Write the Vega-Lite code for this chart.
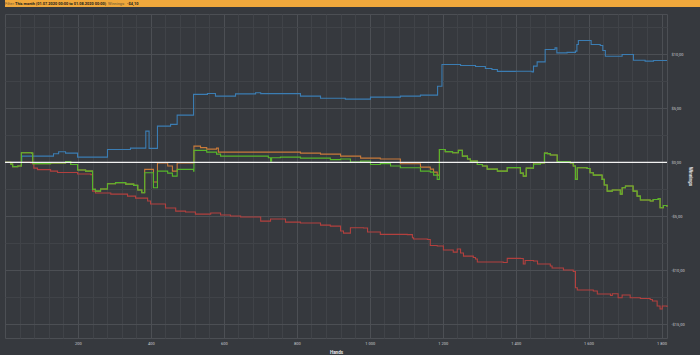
{
  "$schema": "https://vega.github.io/schema/vega-lite/v6.json",
  "background": "#36393e",
  "padding": {"left": 2, "top": 0, "right": 0, "bottom": 0},
  "spacing": 6,
  "config": {
    "font": "Roboto",
    "view": {"stroke": "#4c4f54", "strokeWidth": 1}
  },
  "datasets": {
    "graph": [
      {"series":"Non-showdown","hand":0,"won":0},{"series":"Non-showdown","hand":70,"won":-0.06},{"series":"Non-showdown","hand":79,"won":-0.53},{"series":"Non-showdown","hand":89,"won":-0.67},{"series":"Non-showdown","hand":125,"won":-0.81},{"series":"Non-showdown","hand":144,"won":-0.94},{"series":"Non-showdown","hand":199,"won":-1.08},{"series":"Non-showdown","hand":235,"won":-1.13},{"series":"Non-showdown","hand":240,"won":-2.66},{"series":"Non-showdown","hand":248,"won":-2.84},{"series":"Non-showdown","hand":290,"won":-2.94},{"series":"Non-showdown","hand":336,"won":-3.12},{"series":"Non-showdown","hand":358,"won":-3.31},{"series":"Non-showdown","hand":391,"won":-3.58},{"series":"Non-showdown","hand":399,"won":-3.86},{"series":"Non-showdown","hand":440,"won":-4.23},{"series":"Non-showdown","hand":468,"won":-4.51},{"series":"Non-showdown","hand":495,"won":-4.60},{"series":"Non-showdown","hand":522,"won":-4.79},{"series":"Non-showdown","hand":564,"won":-4.69},{"series":"Non-showdown","hand":591,"won":-4.88},{"series":"Non-showdown","hand":618,"won":-4.97},{"series":"Non-showdown","hand":646,"won":-5.06},{"series":"Non-showdown","hand":701,"won":-5.44},{"series":"Non-showdown","hand":728,"won":-5.25},{"series":"Non-showdown","hand":769,"won":-5.53},{"series":"Non-showdown","hand":810,"won":-5.62},{"series":"Non-showdown","hand":865,"won":-5.81},{"series":"Non-showdown","hand":892,"won":-5.90},{"series":"Non-showdown","hand":920,"won":-6.36},{"series":"Non-showdown","hand":928,"won":-6.55},{"series":"Non-showdown","hand":947,"won":-6.06},{"series":"Non-showdown","hand":983,"won":-6.08},{"series":"Non-showdown","hand":994,"won":-6.45},{"series":"Non-showdown","hand":1029,"won":-6.67},{"series":"Non-showdown","hand":1103,"won":-6.69},{"series":"Non-showdown","hand":1117,"won":-6.98},{"series":"Non-showdown","hand":1120,"won":-7.10},{"series":"Non-showdown","hand":1158,"won":-7.15},{"series":"Non-showdown","hand":1166,"won":-7.70},{"series":"Non-showdown","hand":1185,"won":-7.75},{"series":"Non-showdown","hand":1202,"won":-8.12},{"series":"Non-showdown","hand":1229,"won":-8.31},{"series":"Non-showdown","hand":1240,"won":-8.03},{"series":"Non-showdown","hand":1249,"won":-8.40},{"series":"Non-showdown","hand":1257,"won":-8.68},{"series":"Non-showdown","hand":1284,"won":-8.81},{"series":"Non-showdown","hand":1290,"won":-8.95},{"series":"Non-showdown","hand":1295,"won":-9.23},{"series":"Non-showdown","hand":1366,"won":-9.28},{"series":"Non-showdown","hand":1377,"won":-8.89},{"series":"Non-showdown","hand":1413,"won":-8.91},{"series":"Non-showdown","hand":1421,"won":-9.42},{"series":"Non-showdown","hand":1426,"won":-9.09},{"series":"Non-showdown","hand":1449,"won":-9.14},{"series":"Non-showdown","hand":1460,"won":-9.42},{"series":"Non-showdown","hand":1495,"won":-9.60},{"series":"Non-showdown","hand":1500,"won":-9.79},{"series":"Non-showdown","hand":1531,"won":-9.97},{"series":"Non-showdown","hand":1558,"won":-10.11},{"series":"Non-showdown","hand":1564,"won":-11.61},{"series":"Non-showdown","hand":1569,"won":-11.82},{"series":"Non-showdown","hand":1613,"won":-11.92},{"series":"Non-showdown","hand":1624,"won":-12.19},{"series":"Non-showdown","hand":1660,"won":-12.33},{"series":"Non-showdown","hand":1665,"won":-12.17},{"series":"Non-showdown","hand":1681,"won":-12.54},{"series":"Non-showdown","hand":1692,"won":-12.29},{"series":"Non-showdown","hand":1714,"won":-12.54},{"series":"Non-showdown","hand":1742,"won":-12.61},{"series":"Non-showdown","hand":1769,"won":-12.70},{"series":"Non-showdown","hand":1775,"won":-12.84},{"series":"Non-showdown","hand":1788,"won":-13.31},{"series":"Non-showdown","hand":1796,"won":-13.58},{"series":"Non-showdown","hand":1802,"won":-13.31},{"series":"Non-showdown","hand":1815,"won":-13.40},

      {"series":"Showdown","hand":0,"won":0},{"series":"Showdown","hand":46,"won":0.58},{"series":"Showdown","hand":133,"won":0.80},{"series":"Showdown","hand":147,"won":0.98},{"series":"Showdown","hand":166,"won":0.86},{"series":"Showdown","hand":199,"won":0.49},{"series":"Showdown","hand":281,"won":1.20},{"series":"Showdown","hand":344,"won":1.32},{"series":"Showdown","hand":386,"won":2.90},{"series":"Showdown","hand":395,"won":1.30},{"series":"Showdown","hand":418,"won":3.36},{"series":"Showdown","hand":454,"won":3.52},{"series":"Showdown","hand":472,"won":4.38},{"series":"Showdown","hand":517,"won":6.30},{"series":"Showdown","hand":555,"won":6.39},{"series":"Showdown","hand":577,"won":6.14},{"series":"Showdown","hand":632,"won":6.35},{"series":"Showdown","hand":687,"won":6.46},{"series":"Showdown","hand":701,"won":6.37},{"series":"Showdown","hand":810,"won":6.14},{"series":"Showdown","hand":865,"won":5.95},{"series":"Showdown","hand":933,"won":5.86},{"series":"Showdown","hand":1002,"won":6.05},{"series":"Showdown","hand":1084,"won":6.14},{"series":"Showdown","hand":1139,"won":6.23},{"series":"Showdown","hand":1186,"won":7.06},{"series":"Showdown","hand":1198,"won":9.07},{"series":"Showdown","hand":1249,"won":8.98},{"series":"Showdown","hand":1290,"won":8.89},{"series":"Showdown","hand":1317,"won":8.70},{"series":"Showdown","hand":1335,"won":8.61},{"series":"Showdown","hand":1350,"won":8.43},{"series":"Showdown","hand":1399,"won":8.45},{"series":"Showdown","hand":1445,"won":8.39},{"series":"Showdown","hand":1449,"won":8.92},{"series":"Showdown","hand":1459,"won":9.31},{"series":"Showdown","hand":1481,"won":10.46},{"series":"Showdown","hand":1508,"won":10.61},{"series":"Showdown","hand":1513,"won":10.15},{"series":"Showdown","hand":1541,"won":10.19},{"series":"Showdown","hand":1564,"won":10.31},{"series":"Showdown","hand":1568,"won":10.93},{"series":"Showdown","hand":1572,"won":11.30},{"series":"Showdown","hand":1607,"won":10.93},{"series":"Showdown","hand":1632,"won":10.83},{"series":"Showdown","hand":1639,"won":10.37},{"series":"Showdown","hand":1646,"won":9.84},{"series":"Showdown","hand":1692,"won":10.00},{"series":"Showdown","hand":1723,"won":9.47},{"series":"Showdown","hand":1755,"won":9.38},{"series":"Showdown","hand":1778,"won":9.44},{"series":"Showdown","hand":1815,"won":9.44},

      {"series":"All-in EV","hand":0,"won":0},{"series":"All-in EV","hand":16,"won":-0.16},{"series":"All-in EV","hand":21,"won":-0.39},{"series":"All-in EV","hand":35,"won":-0.34},{"series":"All-in EV","hand":45,"won":0.89},{"series":"All-in EV","hand":73,"won":0.86},{"series":"All-in EV","hand":76,"won":-0.11},{"series":"All-in EV","hand":125,"won":-0.06},{"series":"All-in EV","hand":166,"won":0.07},{"series":"All-in EV","hand":180,"won":-0.20},{"series":"All-in EV","hand":199,"won":-0.71},{"series":"All-in EV","hand":221,"won":-0.81},{"series":"All-in EV","hand":240,"won":-2.50},{"series":"All-in EV","hand":248,"won":-2.66},{"series":"All-in EV","hand":262,"won":-2.47},{"series":"All-in EV","hand":281,"won":-1.98},{"series":"All-in EV","hand":303,"won":-1.87},{"series":"All-in EV","hand":331,"won":-2.01},{"series":"All-in EV","hand":353,"won":-2.13},{"series":"All-in EV","hand":364,"won":-2.56},{"series":"All-in EV","hand":375,"won":-2.81},{"series":"All-in EV","hand":383,"won":-0.65},{"series":"All-in EV","hand":407,"won":-1.82},{"series":"All-in EV","hand":418,"won":-0.04},{"series":"All-in EV","hand":446,"won":-0.34},{"series":"All-in EV","hand":459,"won":-0.81},{"series":"All-in EV","hand":472,"won":-0.04},{"series":"All-in EV","hand":518,"won":1.51},{"series":"All-in EV","hand":536,"won":1.37},{"series":"All-in EV","hand":553,"won":1.23},{"series":"All-in EV","hand":580,"won":1.32},{"series":"All-in EV","hand":585,"won":0.95},{"series":"All-in EV","hand":755,"won":0.95},{"series":"All-in EV","hand":810,"won":0.86},{"series":"All-in EV","hand":865,"won":0.77},{"series":"All-in EV","hand":920,"won":0.58},{"series":"All-in EV","hand":975,"won":0.40},{"series":"All-in EV","hand":1029,"won":0.31},{"series":"All-in EV","hand":1084,"won":-0.13},{"series":"All-in EV","hand":1139,"won":-0.44},{"series":"All-in EV","hand":1166,"won":-0.62},{"series":"All-in EV","hand":1175,"won":-0.90},{"series":"All-in EV","hand":1185,"won":-1.18},{"series":"All-in EV","hand":1191,"won":1.20},{"series":"All-in EV","hand":1207,"won":1.00},{"series":"All-in EV","hand":1227,"won":0.89},{"series":"All-in EV","hand":1243,"won":1.11},{"series":"All-in EV","hand":1254,"won":0.58},{"series":"All-in EV","hand":1268,"won":0.31},{"series":"All-in EV","hand":1276,"won":0.12},{"series":"All-in EV","hand":1295,"won":-0.19},{"series":"All-in EV","hand":1309,"won":-0.34},{"series":"All-in EV","hand":1322,"won":-0.62},{"series":"All-in EV","hand":1350,"won":-0.81},{"series":"All-in EV","hand":1377,"won":-0.48},{"series":"All-in EV","hand":1413,"won":-0.99},{"series":"All-in EV","hand":1421,"won":-1.27},{"series":"All-in EV","hand":1429,"won":-0.53},{"series":"All-in EV","hand":1449,"won":-0.04},{"series":"All-in EV","hand":1468,"won":-0.04},{"series":"All-in EV","hand":1479,"won":0.86},{"series":"All-in EV","hand":1487,"won":0.81},{"series":"All-in EV","hand":1495,"won":0.68},{"series":"All-in EV","hand":1514,"won":0.07},{"series":"All-in EV","hand":1550,"won":-0.06},{"series":"All-in EV","hand":1558,"won":-0.34},{"series":"All-in EV","hand":1564,"won":-1.57},{"series":"All-in EV","hand":1569,"won":-0.50},{"series":"All-in EV","hand":1596,"won":-0.57},{"series":"All-in EV","hand":1604,"won":-0.96},{"series":"All-in EV","hand":1613,"won":-1.18},{"series":"All-in EV","hand":1637,"won":-1.57},{"series":"All-in EV","hand":1643,"won":-2.10},{"series":"All-in EV","hand":1651,"won":-2.66},{"series":"All-in EV","hand":1665,"won":-2.56},{"series":"All-in EV","hand":1687,"won":-2.94},{"series":"All-in EV","hand":1692,"won":-2.35},{"series":"All-in EV","hand":1701,"won":-2.19},{"series":"All-in EV","hand":1722,"won":-2.66},{"series":"All-in EV","hand":1733,"won":-3.12},{"series":"All-in EV","hand":1742,"won":-3.49},{"series":"All-in EV","hand":1769,"won":-3.58},{"series":"All-in EV","hand":1777,"won":-3.44},{"series":"All-in EV","hand":1791,"won":-3.35},{"series":"All-in EV","hand":1796,"won":-4.20},{"series":"All-in EV","hand":1805,"won":-4.00},{"series":"All-in EV","hand":1815,"won":-4.10},

      {"series":"Net won","hand":0,"won":0},{"series":"Net won","hand":16,"won":-0.16},{"series":"Net won","hand":21,"won":-0.39},{"series":"Net won","hand":35,"won":-0.34},{"series":"Net won","hand":45,"won":0.89},{"series":"Net won","hand":73,"won":0.86},{"series":"Net won","hand":76,"won":-0.11},{"series":"Net won","hand":125,"won":-0.06},{"series":"Net won","hand":166,"won":0.07},{"series":"Net won","hand":180,"won":-0.20},{"series":"Net won","hand":199,"won":-0.71},{"series":"Net won","hand":221,"won":-0.81},{"series":"Net won","hand":240,"won":-2.50},{"series":"Net won","hand":248,"won":-2.66},{"series":"Net won","hand":262,"won":-2.47},{"series":"Net won","hand":281,"won":-1.98},{"series":"Net won","hand":303,"won":-1.87},{"series":"Net won","hand":331,"won":-2.01},{"series":"Net won","hand":353,"won":-2.13},{"series":"Net won","hand":364,"won":-2.56},{"series":"Net won","hand":375,"won":-2.81},{"series":"Net won","hand":383,"won":-0.96},{"series":"Net won","hand":407,"won":-2.35},{"series":"Net won","hand":418,"won":-0.81},{"series":"Net won","hand":446,"won":-0.99},{"series":"Net won","hand":459,"won":-1.27},{"series":"Net won","hand":472,"won":-0.65},{"series":"Net won","hand":517,"won":-0.81},{"series":"Net won","hand":518,"won":1.11},{"series":"Net won","hand":553,"won":0.95},{"series":"Net won","hand":580,"won":0.77},{"series":"Net won","hand":591,"won":0.58},{"series":"Net won","hand":722,"won":0.43},{"series":"Net won","hand":728,"won":0.12},{"series":"Net won","hand":731,"won":0.43},{"series":"Net won","hand":755,"won":0.49},{"series":"Net won","hand":810,"won":0.40},{"series":"Net won","hand":892,"won":0.26},{"series":"Net won","hand":920,"won":0.31},{"series":"Net won","hand":947,"won":0.03},{"series":"Net won","hand":975,"won":0.12},{"series":"Net won","hand":1002,"won":-0.19},{"series":"Net won","hand":1029,"won":-0.11},{"series":"Net won","hand":1057,"won":-0.34},{"series":"Net won","hand":1084,"won":-0.50},{"series":"Net won","hand":1139,"won":-0.81},{"series":"Net won","hand":1166,"won":-0.90},{"series":"Net won","hand":1175,"won":-1.18},{"series":"Net won","hand":1185,"won":-1.57},{"series":"Net won","hand":1191,"won":1.20},{"series":"Net won","hand":1207,"won":1.00},{"series":"Net won","hand":1227,"won":0.89},{"series":"Net won","hand":1243,"won":1.11},{"series":"Net won","hand":1254,"won":0.58},{"series":"Net won","hand":1268,"won":0.31},{"series":"Net won","hand":1276,"won":0.12},{"series":"Net won","hand":1295,"won":-0.19},{"series":"Net won","hand":1309,"won":-0.34},{"series":"Net won","hand":1322,"won":-0.62},{"series":"Net won","hand":1350,"won":-0.81},{"series":"Net won","hand":1377,"won":-0.48},{"series":"Net won","hand":1413,"won":-0.99},{"series":"Net won","hand":1421,"won":-1.27},{"series":"Net won","hand":1429,"won":-0.53},{"series":"Net won","hand":1449,"won":-0.16},{"series":"Net won","hand":1468,"won":-0.04},{"series":"Net won","hand":1479,"won":0.86},{"series":"Net won","hand":1487,"won":0.81},{"series":"Net won","hand":1495,"won":0.68},{"series":"Net won","hand":1514,"won":0.07},{"series":"Net won","hand":1550,"won":-0.06},{"series":"Net won","hand":1558,"won":-0.34},{"series":"Net won","hand":1564,"won":-1.57},{"series":"Net won","hand":1569,"won":-0.50},{"series":"Net won","hand":1596,"won":-0.57},{"series":"Net won","hand":1604,"won":-0.96},{"series":"Net won","hand":1613,"won":-1.18},{"series":"Net won","hand":1637,"won":-1.57},{"series":"Net won","hand":1643,"won":-2.10},{"series":"Net won","hand":1651,"won":-2.66},{"series":"Net won","hand":1665,"won":-2.56},{"series":"Net won","hand":1687,"won":-2.94},{"series":"Net won","hand":1692,"won":-2.35},{"series":"Net won","hand":1701,"won":-2.19},{"series":"Net won","hand":1722,"won":-2.66},{"series":"Net won","hand":1733,"won":-3.12},{"series":"Net won","hand":1742,"won":-3.49},{"series":"Net won","hand":1769,"won":-3.58},{"series":"Net won","hand":1777,"won":-3.44},{"series":"Net won","hand":1791,"won":-3.35},{"series":"Net won","hand":1796,"won":-4.20},{"series":"Net won","hand":1805,"won":-4.00},{"series":"Net won","hand":1815,"won":-4.10}
    ],
    "header": [{"filter": "This month (01.07.2020 00:00 to 01.08.2020 00:00)", "total": "-$4,10"}],
    "zero": [{"level": 0}]
  },
  "vconcat": [
    {
      "width": 698,
      "height": 7,
      "view": {"fill": "#f0a83c", "stroke": null},
      "data": {"name": "header"},
      "encoding": {
        "x": {"datum": 0, "type": "quantitative", "scale": {"domain": [0, 1]}, "axis": null},
        "y": {"datum": 0.5, "type": "quantitative", "scale": {"domain": [0, 1]}, "axis": null}
      },
      "layer": [
        {"mark": {"type": "text", "align": "left", "baseline": "middle", "fontSize": 3.9, "color": "#6a5434", "dx": 0, "text": "Filter:"}},
        {"mark": {"type": "text", "align": "left", "baseline": "middle", "fontSize": 3.9, "fontWeight": "bold", "color": "#1a1a1a", "dx": 10}, "encoding": {"text": {"field": "filter"}}},
        {"mark": {"type": "text", "align": "left", "baseline": "middle", "fontSize": 3.9, "color": "#6a5434", "dx": 103, "text": "Winnings:"}},
        {"mark": {"type": "text", "align": "left", "baseline": "middle", "fontSize": 3.9, "fontWeight": "bold", "color": "#1a1a1a", "dx": 122}, "encoding": {"text": {"field": "total"}}}
      ]
    },
    {
      "width": 662,
      "height": 324,
      "resolve": {"axis": {"x": "independent", "y": "independent"}},
      "layer": [
        {
          "data": {"name": "graph"},
          "mark": {"type": "line", "interpolate": "step-after", "strokeWidth": 1.1},
          "encoding": {
            "x": {
              "field": "hand", "type": "quantitative",
              "scale": {"domain": [0, 1815], "nice": false, "zero": false},
              "axis": {
                "orient": "bottom", "title": "Hands", "values": [200, 400, 600, 800, 1000, 1200, 1400, 1600, 1800],
                "labelExpr": "replace(format(datum.value, ','), ',', ' ')",
                "grid": true, "gridColor": "#4c4f54", "gridWidth": 1,
                "domain": false, "ticks": false, "tickSize": 0,
                "labelFontSize": 4, "labelColor": "#c9cbce", "labelPadding": 3.5,
                "titleFontSize": 4.6, "titleFontWeight": "bold", "titleColor": "#e6e7e8", "titlePadding": 4
              }
            },
            "y": {
              "field": "won", "type": "quantitative",
              "scale": {"domain": [-16.27, 13.75], "nice": false, "zero": false},
              "axis": {
                "orient": "right", "title": "Winnings", "values": [-15, -10, -5, 0, 5, 10],
                "labelExpr": "(datum.value < 0 ? '-$' : '$') + replace(format(abs(datum.value), '.2f'), '.', ',')",
                "grid": true, "gridColor": "#4c4f54", "gridWidth": 1,
                "domain": false, "ticks": false, "tickSize": 0,
                "labelFontSize": 4, "labelColor": "#c9cbce", "labelPadding": 4,
                "titleFontSize": 4.6, "titleFontWeight": "bold", "titleColor": "#e6e7e8", "titlePadding": 3.5
              }
            },
            "color": {
              "field": "series", "type": "nominal", "legend": null,
              "scale": {"domain": ["Non-showdown", "Showdown", "All-in EV", "Net won"], "range": ["#b3403e", "#3b7db3", "#c97b3a", "#55b62b"]}
            }
          }
        },
        {
          "data": {"name": "zero"},
          "mark": {"type": "rule", "color": "#f2f2f2", "strokeWidth": 1.1},
          "encoding": {
            "x": {
              "datum": 0, "type": "quantitative",
              "axis": {
                "orient": "top", "title": null, "labels": false, "ticks": false, "domain": false, "tickSize": 0,
                "minExtent": 0, "maxExtent": 0, "labelPadding": 0,
                "grid": true, "gridColor": "#404348", "gridWidth": 1,
                "values": [40, 80, 120, 160, 240, 280, 320, 360, 440, 480, 520, 560, 640, 680, 720, 760, 840, 880, 920, 960, 1040, 1080, 1120, 1160, 1240, 1280, 1320, 1360, 1440, 1480, 1520, 1560, 1640, 1680, 1720, 1760]
              }
            },
            "x2": {"datum": 1815},
            "y": {
              "field": "level", "type": "quantitative",
              "axis": {
                "orient": "left", "title": null, "labels": false, "ticks": false, "domain": false, "tickSize": 0,
                "minExtent": 0, "maxExtent": 0, "labelPadding": 0,
                "grid": true, "gridColor": "#404348", "gridWidth": 1,
                "values": [-12.5, -7.5, -2.5, 2.5, 7.5, 12.5]
              }
            }
          }
        }
      ]
    }
  ]
}
